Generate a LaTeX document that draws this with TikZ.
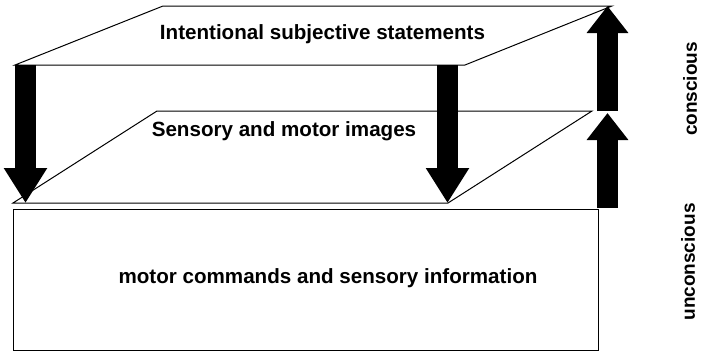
\documentclass[tikz,border=0pt]{standalone}
\usepackage{fontspec}
\setmainfont{Liberation Sans}
\usetikzlibrary{arrows.meta}

\begin{document}
\begin{tikzpicture}[x=1pt,y=-1pt,
  plane/.style={draw, line width=1pt},
  layertext/.style={font=\fontsize{20.6}{24}\selectfont\bfseries, anchor=base, inner sep=0pt},
  sidetext/.style={font=\fontsize{19}{22}\selectfont\bfseries, rotate=90, inner sep=0pt},
  godown/.style={line width=21pt, -{Triangle[width=41pt,length=35pt]}},
  goup/.style={line width=21pt, -{Triangle[width=40pt,length=27pt]}}]
  \useasboundingbox (0,0) rectangle (702,351);
  % corners of the two planes
  \coordinate (t1) at (163,6);   \coordinate (t2) at (612,6);
  \coordinate (t3) at (465,65);  \coordinate (t4) at (15,65);
  \coordinate (m1) at (157,111); \coordinate (m2) at (592,111);
  \coordinate (m3) at (448,203); \coordinate (m4) at (13,203);
  \draw[plane] (t1) -- (t2) -- (t3) -- (t4) -- cycle;
  \draw[plane] (m1) -- (m2) -- (m3) -- (m4) -- cycle;
  \node[draw, line width=1.2pt, anchor=north west, inner sep=0pt,
        minimum width=585pt, minimum height=141pt] (base) at (13,209) {};

  \node[layertext] (top) at (322.5,39) {Intentional subjective statements};
  \node[layertext] (mid) at (284,136) {Sensory and motor images};
  \node[layertext] (low) at (328,283) {motor commands and sensory information};
  \node[sidetext] (con) at (690,89) {conscious};
  \node[sidetext] (uncon) at (688,262) {unconscious};

  % arrows between the layers
  \coordinate (ls) at (25.5,65);   \coordinate (le) at (25.5,203);
  \coordinate (ms) at (447.5,65);  \coordinate (me) at (447.5,203);
  \coordinate (us) at (607.5,208); \coordinate (um) at (607.5,113);
  \coordinate (vs) at (607.5,111); \coordinate (ve) at (607.5,6);
  \draw[godown] (ls) -- (le);
  \draw[godown] (ms) -- (me);
  \draw[goup] (us) -- (um);
  \draw[goup] (vs) -- (ve);
\end{tikzpicture}
\end{document}
